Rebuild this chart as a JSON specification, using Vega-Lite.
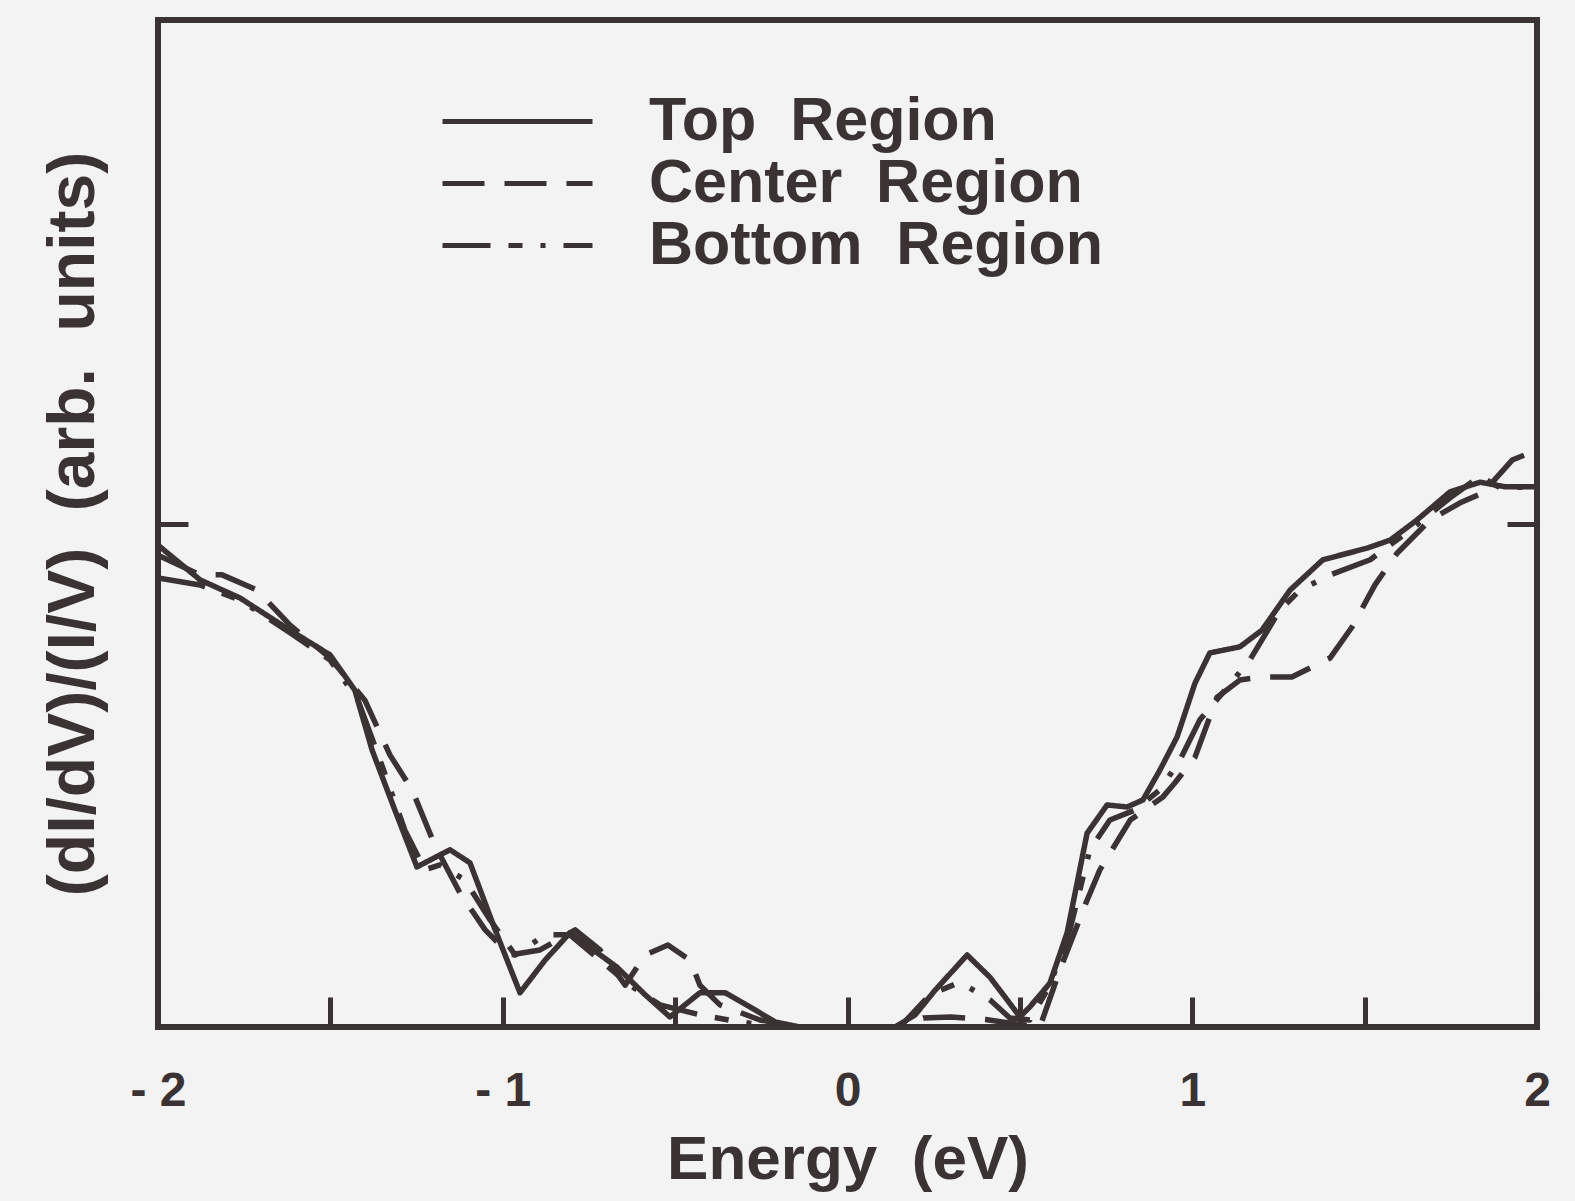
{
  "$schema": "https://vega.github.io/schema/vega-lite/v6.json",
  "autosize": {"type": "none"},
  "width": 1379,
  "height": 1007,
  "padding": {"left": 158, "top": 20, "right": 38, "bottom": 174},
  "background": "#f3f3f4",
  "config": {
    "view": {"stroke": "#3a3233", "strokeWidth": 6},
    "axis": {"domain": false, "grid": false, "tickColor": "#3a3233", "tickWidth": 5, "labelColor": "#3a3233", "titleColor": "#3a3233", "labelFont": "Liberation Sans", "titleFont": "Liberation Sans", "labelFontWeight": "bold", "titleFontWeight": "bold"}
  },
  "datasets": {
    "curves": [
      {"r":"Top Region","e":-2,"v":0.957},{"r":"Top Region","e":-1.878,"v":0.888},{"r":"Top Region","e":-1.762,"v":0.852},{"r":"Top Region","e":-1.617,"v":0.788},{"r":"Top Region","e":-1.501,"v":0.739},{"r":"Top Region","e":-1.429,"v":0.669},{"r":"Top Region","e":-1.379,"v":0.55},{"r":"Top Region","e":-1.313,"v":0.431},{"r":"Top Region","e":-1.249,"v":0.318},{"r":"Top Region","e":-1.153,"v":0.352},{"r":"Top Region","e":-1.095,"v":0.326},{"r":"Top Region","e":-1.022,"v":0.193},{"r":"Top Region","e":-0.95,"v":0.068},{"r":"Top Region","e":-0.877,"v":0.133},{"r":"Top Region","e":-0.805,"v":0.187},{"r":"Top Region","e":-0.669,"v":0.119},{"r":"Top Region","e":-0.587,"v":0.064},{"r":"Top Region","e":-0.515,"v":0.02},{"r":"Top Region","e":-0.428,"v":0.068},{"r":"Top Region","e":-0.355,"v":0.068},{"r":"Top Region","e":-0.283,"v":0.04},{"r":"Top Region","e":-0.21,"v":0.01},{"r":"Top Region","e":-0.138,"v":0},{"r":"Top Region","e":0.007,"v":0},{"r":"Top Region","e":0.138,"v":0},{"r":"Top Region","e":0.196,"v":0.024},{"r":"Top Region","e":0.254,"v":0.073},{"r":"Top Region","e":0.347,"v":0.143},{"r":"Top Region","e":0.413,"v":0.099},{"r":"Top Region","e":0.463,"v":0.054},{"r":"Top Region","e":0.5,"v":0.02},{"r":"Top Region","e":0.529,"v":0.04},{"r":"Top Region","e":0.587,"v":0.087},{"r":"Top Region","e":0.637,"v":0.187},{"r":"Top Region","e":0.695,"v":0.385},{"r":"Top Region","e":0.753,"v":0.441},{"r":"Top Region","e":0.811,"v":0.437},{"r":"Top Region","e":0.857,"v":0.451},{"r":"Top Region","e":0.906,"v":0.51},{"r":"Top Region","e":0.956,"v":0.576},{"r":"Top Region","e":1.008,"v":0.683},{"r":"Top Region","e":1.051,"v":0.743},{"r":"Top Region","e":1.138,"v":0.755},{"r":"Top Region","e":1.202,"v":0.788},{"r":"Top Region","e":1.284,"v":0.868},{"r":"Top Region","e":1.379,"v":0.928},{"r":"Top Region","e":1.507,"v":0.951},{"r":"Top Region","e":1.574,"v":0.967},{"r":"Top Region","e":1.652,"v":1.007},{"r":"Top Region","e":1.748,"v":1.063},{"r":"Top Region","e":1.835,"v":1.082},{"r":"Top Region","e":1.907,"v":1.073},{"r":"Top Region","e":2,"v":1.073},
      {"r":"Center Region","e":-2,"v":0.937},{"r":"Center Region","e":-1.878,"v":0.898},{"r":"Center Region","e":-1.814,"v":0.898},{"r":"Center Region","e":-1.713,"v":0.868},{"r":"Center Region","e":-1.617,"v":0.798},{"r":"Center Region","e":-1.501,"v":0.733},{"r":"Center Region","e":-1.4,"v":0.649},{"r":"Center Region","e":-1.327,"v":0.54},{"r":"Center Region","e":-1.263,"v":0.471},{"r":"Center Region","e":-1.197,"v":0.361},{"r":"Center Region","e":-1.124,"v":0.266},{"r":"Center Region","e":-1.051,"v":0.193},{"r":"Center Region","e":-0.979,"v":0.143},{"r":"Center Region","e":-0.892,"v":0.153},{"r":"Center Region","e":-0.79,"v":0.193},{"r":"Center Region","e":-0.718,"v":0.153},{"r":"Center Region","e":-0.645,"v":0.083},{"r":"Center Region","e":-0.587,"v":0.143},{"r":"Center Region","e":-0.521,"v":0.163},{"r":"Center Region","e":-0.457,"v":0.133},{"r":"Center Region","e":-0.428,"v":0.083},{"r":"Center Region","e":-0.37,"v":0.044},{"r":"Center Region","e":-0.254,"v":0.014},{"r":"Center Region","e":-0.138,"v":0},{"r":"Center Region","e":0.15,"v":0},{"r":"Center Region","e":0.22,"v":0.018},{"r":"Center Region","e":0.3,"v":0.02},{"r":"Center Region","e":0.4,"v":0.015},{"r":"Center Region","e":0.5,"v":0.005},{"r":"Center Region","e":0.558,"v":0},{"r":"Center Region","e":0.616,"v":0.113},{"r":"Center Region","e":0.689,"v":0.242},{"r":"Center Region","e":0.732,"v":0.312},{"r":"Center Region","e":0.82,"v":0.411},{"r":"Center Region","e":0.915,"v":0.457},{"r":"Center Region","e":0.95,"v":0.485},{"r":"Center Region","e":1.008,"v":0.536},{"r":"Center Region","e":1.072,"v":0.655},{"r":"Center Region","e":1.138,"v":0.689},{"r":"Center Region","e":1.197,"v":0.695},{"r":"Center Region","e":1.289,"v":0.695},{"r":"Center Region","e":1.4,"v":0.733},{"r":"Center Region","e":1.463,"v":0.794},{"r":"Center Region","e":1.53,"v":0.878},{"r":"Center Region","e":1.594,"v":0.941},{"r":"Center Region","e":1.69,"v":1.007},{"r":"Center Region","e":1.777,"v":1.041},{"r":"Center Region","e":1.843,"v":1.061},{"r":"Center Region","e":1.928,"v":1.126},{"r":"Center Region","e":2,"v":1.146},
      {"r":"Bottom Region","e":-2,"v":0.892},{"r":"Bottom Region","e":-1.878,"v":0.878},{"r":"Bottom Region","e":-1.762,"v":0.848},{"r":"Bottom Region","e":-1.617,"v":0.783},{"r":"Bottom Region","e":-1.501,"v":0.729},{"r":"Bottom Region","e":-1.42,"v":0.649},{"r":"Bottom Region","e":-1.356,"v":0.53},{"r":"Bottom Region","e":-1.284,"v":0.391},{"r":"Bottom Region","e":-1.226,"v":0.312},{"r":"Bottom Region","e":-1.182,"v":0.322},{"r":"Bottom Region","e":-1.11,"v":0.292},{"r":"Bottom Region","e":-1.037,"v":0.213},{"r":"Bottom Region","e":-0.964,"v":0.143},{"r":"Bottom Region","e":-0.877,"v":0.183},{"r":"Bottom Region","e":-0.805,"v":0.183},{"r":"Bottom Region","e":-0.718,"v":0.133},{"r":"Bottom Region","e":-0.631,"v":0.083},{"r":"Bottom Region","e":-0.544,"v":0.044},{"r":"Bottom Region","e":-0.428,"v":0.024},{"r":"Bottom Region","e":-0.312,"v":0.01},{"r":"Bottom Region","e":-0.196,"v":0},{"r":"Bottom Region","e":0.152,"v":0},{"r":"Bottom Region","e":0.239,"v":0.064},{"r":"Bottom Region","e":0.326,"v":0.089},{"r":"Bottom Region","e":0.413,"v":0.054},{"r":"Bottom Region","e":0.471,"v":0.018},{"r":"Bottom Region","e":0.529,"v":0.014},{"r":"Bottom Region","e":0.587,"v":0.083},{"r":"Bottom Region","e":0.645,"v":0.193},{"r":"Bottom Region","e":0.703,"v":0.352},{"r":"Bottom Region","e":0.761,"v":0.411},{"r":"Bottom Region","e":0.834,"v":0.431},{"r":"Bottom Region","e":0.906,"v":0.471},{"r":"Bottom Region","e":0.964,"v":0.53},{"r":"Bottom Region","e":1.022,"v":0.61},{"r":"Bottom Region","e":1.095,"v":0.669},{"r":"Bottom Region","e":1.167,"v":0.729},{"r":"Bottom Region","e":1.254,"v":0.828},{"r":"Bottom Region","e":1.313,"v":0.868},{"r":"Bottom Region","e":1.4,"v":0.898},{"r":"Bottom Region","e":1.516,"v":0.928},{"r":"Bottom Region","e":1.632,"v":0.987},{"r":"Bottom Region","e":1.748,"v":1.051},{"r":"Bottom Region","e":1.835,"v":1.094},{"r":"Bottom Region","e":1.893,"v":1.071},{"r":"Bottom Region","e":2,"v":1.073}
    ]
  },
  "layer": [
    {
      "data": {"name": "curves"},
      "mark": {"type": "line", "color": "#3a3233", "strokeWidth": 5.5, "strokeJoin": "round", "clip": true},
      "encoding": {
        "x": {"field": "e", "type": "quantitative", "scale": {"domain": [-2, 2], "nice": false, "zero": false},
          "axis": {"values": [-2, -1.5, -1, -0.5, 0, 0.5, 1, 1.5, 2], "tickSize": -30, "labelFontSize": 48, "labelPadding": 70, "labelFlush": false,
            "labelExpr": "datum.value % 1 != 0 ? '' : (datum.value < 0 ? '- ' + abs(datum.value) : '' + datum.value)",
            "title": "Energy\u00a0\u00a0(eV)", "titleFontSize": 62, "titlePadding": 14}},
        "y": {"field": "v", "type": "quantitative", "scale": {"domain": [0, 2], "nice": false},
          "axis": {"orient": "left", "values": [1], "tickSize": -30, "labels": false, "title": "(dI/dV)/(I/V)\u00a0\u00a0(arb.\u00a0\u00a0units)", "titleFontSize": 66, "titlePadding": 48}},
        "strokeDash": {"field": "r", "type": "nominal",
          "scale": {"domain": ["Top Region", "Center Region", "Bottom Region"], "range": [[1, 0], [42, 20], [48, 18, 14, 18, 5, 18]]},
          "legend": {"orient": "none", "legendX": 329, "legendY": 71, "title": null, "symbolType": "M-3,0H3", "symbolSize": 2500, "symbolStrokeWidth": 5, "symbolStrokeColor": "#3a3233", "symbolFillColor": "transparent",
            "labelFontSize": 61, "labelFont": "Liberation Sans", "labelFontWeight": "bold", "labelColor": "#3a3233", "labelOffset": 101, "labelLimit": 0, "rowPadding": 0,
            "labelExpr": "replace(datum.label, ' ', '\u00a0\u00a0')"}}
      }
    },
    {
      "mark": {"type": "rule", "strokeOpacity": 0},
      "encoding": {
        "y": {"datum": 1, "type": "quantitative", "axis": {"orient": "right", "values": [1], "tickSize": -30, "labels": false, "title": null}}
      }
    }
  ],
  "resolve": {"axis": {"y": "independent"}}
}
